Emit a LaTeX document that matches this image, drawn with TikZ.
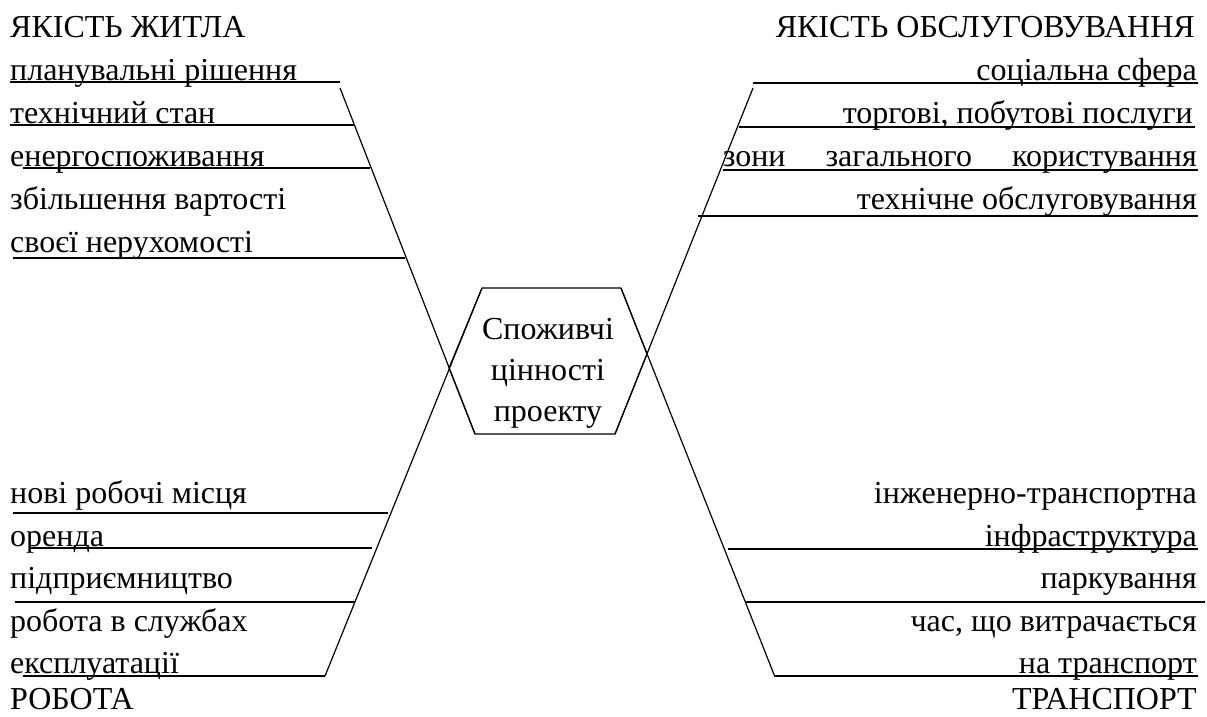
\documentclass[tikz,border=0pt]{standalone}
\usepackage{fontspec}
\setmainfont{Liberation Serif}
\usetikzlibrary{positioning}

\begin{document}
\begin{tikzpicture}[x=1pt,y=-1pt,font=\fontsize{32}{41}\selectfont]
    \tikzset{lt/.style={anchor=base west,inner sep=0pt},
             rt/.style={anchor=base east,inner sep=0pt},
             ul/.style={line width=1.5pt},
             arm/.style={line width=1.2pt}}
    \useasboundingbox (0,0) rectangle (1207,716);
    % hexagon corners
    \coordinate (hA) at (482,288);
    \coordinate (hB) at (621,288);
    \coordinate (hC) at (647,354);
    \coordinate (hD) at (615,434);
    \coordinate (hE) at (475,434);
    \coordinate (hF) at (449,368);
    \node[align=center,inner sep=0pt] (hub) at (548,373) {Споживчі\\цінності\\проекту};
    \draw[arm] (hA)--(hB)--(hC)--(hD)--(hE)--(hF)--cycle;
    % quality of housing
    \node[lt] (h0) at (10,37) {ЯКІСТЬ ЖИТЛА};
    \node[lt] (h1) at (10,80) {планувальні рішення};
    \node[lt] (h2) at (10,123) {технічний стан};
    \node[lt] (h3) at (10,166) {енергоспоживання};
    \node[lt] (h4) at (10,209) {збільшення вартості};
    \node[lt] (h5) at (10,252) {своєї нерухомості};
    \draw[ul] (10,82)--(340,82) (10,125)--(355,125) (23,168)--(370,168) (13,258)--(405,258);
    \coordinate (hTop) at (340,88);
    \draw[arm] (hTop)--(hE);
    % quality of service
    \node[rt] (s0) at (1195,37) {ЯКІСТЬ ОБСЛУГОВУВАННЯ};
    \node[rt] (s1) at (1197,80) {соціальна сфера};
    \node[rt] (s2) at (1193,123) {торгові, побутові послуги};
    \node[rt] (s3) at (1197,166) {\makebox[474pt][s]{зони загального користування}};
    \node[rt] (s4) at (1197,209) {технічне обслуговування};
    \draw[ul] (753,83)--(1198,83) (739,127)--(1195,127) (723,170)--(1198,170) (698,216)--(1198,216);
    \coordinate (sTop) at (753,88);
    \draw[arm] (sTop)--(hD);
    % work
    \node[lt] (w1) at (10,503) {нові робочі місця};
    \node[lt] (w2) at (10,546) {оренда};
    \node[lt] (w3) at (10,588) {підприємництво};
    \node[lt] (w4) at (10,631) {робота в службах};
    \node[lt] (w5) at (10,673) {експлуатації};
    \node[lt] (w0) at (10,709) {РОБОТА};
    \draw[ul] (13,513)--(388,513) (30,548)--(372,548) (15,602)--(355,602) (23,676)--(325,676);
    \coordinate (wEnd) at (325,676);
    \draw[arm] (wEnd)--(hA);
    % transport
    \node[rt] (t1) at (1197,503) {інженерно-транспортна};
    \node[rt] (t2) at (1197,546) {інфраструктура};
    \node[rt] (t3) at (1197,588) {паркування};
    \node[rt] (t4) at (1197,631) {час, що витрачається};
    \node[rt] (t5) at (1197,673) {на транспорт};
    \node[rt] (t0) at (1197,709) {ТРАНСПОРТ};
    \draw[ul] (728,549)--(1198,549) (745,602)--(1205,602) (775,676)--(1198,676);
    \coordinate (tEnd) at (775,677);
    \draw[arm] (tEnd)--(hB);
\end{tikzpicture}
\end{document}
